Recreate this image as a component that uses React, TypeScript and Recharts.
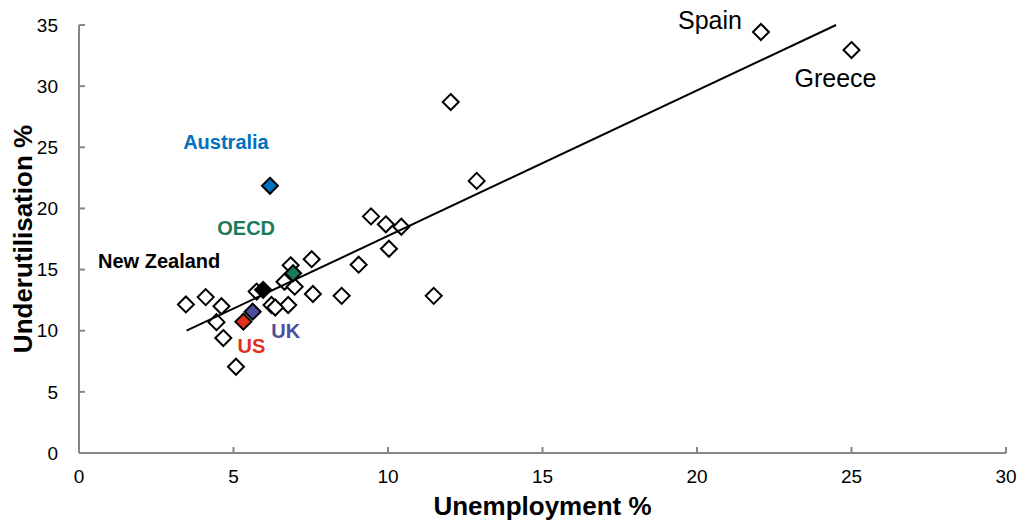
import React from 'react';
import { ScatterChart, Scatter, XAxis, YAxis, Label } from 'recharts';

const xTicks = [0, 5, 10, 15, 20, 25, 30];
const yTicks = [0, 5, 10, 15, 20, 25, 30, 35];

const otherNames = ['Spain', 'Greece', '', '', '', '', '', '', '', '', '', '', '', '', '', '', '', '', '', '', '', '', '', '', '', ''];
const otherUnemployment = [22.07, 25.0, 12.03, 12.87, 9.45, 9.93, 10.43, 10.03, 9.05, 7.53, 6.85, 6.65, 6.98, 5.75, 7.57, 8.5, 11.48, 6.23, 6.77, 3.46, 4.1, 4.61, 4.45, 4.67, 5.08, 6.35];
const otherUnderutilisation = [34.43, 32.95, 28.7, 22.25, 19.35, 18.7, 18.5, 16.7, 15.4, 15.85, 15.35, 14.0, 13.6, 13.2, 13.0, 12.85, 12.85, 12.1, 12.1, 12.15, 12.75, 12.0, 10.7, 9.4, 7.05, 11.9];

const focusNames = ['Australia', 'OECD', 'New Zealand', 'UK', 'US'];
const focusUnemployment = [6.18, 6.93, 5.96, 5.62, 5.32];
const focusUnderutilisation = [21.85, 14.7, 13.34, 11.56, 10.74];

const trendUnemployment = [3.48, 24.5];
const trendUnderutilisation = [10.0, 35.0];

const otherData = otherUnemployment.map((x, i) => ({ x, y: otherUnderutilisation[i], name: otherNames[i] }));
const focusData = focusUnemployment.map((x, i) => ({ x, y: focusUnderutilisation[i], name: focusNames[i] }));
const trendData = trendUnemployment.map((x, i) => ({ x, y: trendUnderutilisation[i] }));

const FONT = '"Liberation Sans", Arial, sans-serif';

const labelStyle: Record<string, { color: string; dx: number; dy: number; size: number; weight: string; fill: string }> = {
  Australia: { fill: '#0070C0', color: '#0070C0', dx: -44, dy: -37, size: 20, weight: 'bold' },
  OECD: { fill: '#1B7A5C', color: '#1B7A5C', dx: -47, dy: -38, size: 20, weight: 'bold' },
  'New Zealand': { fill: '#000000', color: '#000000', dx: -104, dy: -22, size: 20, weight: 'bold' },
  UK: { fill: '#4A4F9E', color: '#4A4F9E', dx: 33, dy: 26, size: 20, weight: 'bold' },
  US: { fill: '#E2301F', color: '#E2301F', dx: 8, dy: 31, size: 20, weight: 'bold' },
  Spain: { fill: '#FFFFFF', color: '#000000', dx: -51, dy: -3, size: 25, weight: 'normal' },
  Greece: { fill: '#FFFFFF', color: '#000000', dx: -16, dy: 37, size: 25, weight: 'normal' },
};

const R = 8;

const DiamondShape = (props: any) => {
  const { cx, cy, payload } = props;
  const st = payload && payload.name ? labelStyle[payload.name] : undefined;
  const fill = st ? st.fill : '#FFFFFF';
  return (
    <g>
      <path
        d={`M${cx},${cy - R}L${cx + R},${cy}L${cx},${cy + R}L${cx - R},${cy}Z`}
        fill={fill}
        stroke="#000"
        strokeWidth={2}
      />
      {st ? (
        <text
          x={cx + st.dx}
          y={cy + st.dy}
          textAnchor="middle"
          fill={st.color}
          fontSize={st.size}
          fontWeight={st.weight}
          fontFamily={FONT}
        >
          {payload.name}
        </text>
      ) : null}
    </g>
  );
};

const NoShape = () => <g />;

const XTitle = (props: any) => {
  const vb = props.viewBox || {};
  const cx = vb.x + vb.width / 2;
  return (
    <text x={cx} y={515} textAnchor="middle" fontSize={26} fontWeight="bold" fontFamily={FONT} fill="#000">
      Unemployment %
    </text>
  );
};

const YTitle = (props: any) => {
  const vb = props.viewBox || {};
  const cy = vb.y + vb.height / 2;
  return (
    <text
      x={32}
      y={cy}
      transform={`rotate(-90, 32, ${cy})`}
      textAnchor="middle"
      fontSize={26}
      fontWeight="bold"
      fontFamily={FONT}
      fill="#000"
    >
      Underutilisation %
    </text>
  );
};

export default function App() {
  return (
    <div style={{ position: 'absolute', left: 0, top: 0, width: 1030, height: 522, background: '#fff' }}>
      <ScatterChart
        width={1030}
        height={522}
        margin={{ top: 25, right: 24, bottom: 0, left: 0 }}
        style={{ fontFamily: FONT }}
      >
        <XAxis
          type="number"
          dataKey="x"
          domain={[0, 30]}
          ticks={xTicks}
          height={69}
          stroke="#868686"
          strokeWidth={2}
          tickSize={-6}
          tickMargin={23}
          tick={{ fill: '#000', fontSize: 19, fontFamily: FONT }}
          tickLine={{ stroke: '#868686', strokeWidth: 2 }}
        >
          <Label content={<XTitle />} />
        </XAxis>
        <YAxis
          type="number"
          dataKey="y"
          domain={[0, 35]}
          ticks={yTicks}
          width={79}
          stroke="#868686"
          strokeWidth={2}
          tickSize={-6}
          tickMargin={27}
          tick={{ fill: '#000', fontSize: 19, fontFamily: FONT }}
          tickLine={{ stroke: '#868686', strokeWidth: 2 }}
        >
          <Label content={<YTitle />} />
        </YAxis>
        <Scatter data={otherData} shape={DiamondShape} isAnimationActive={false} />
        <Scatter
          data={trendData}
          line={{ stroke: '#000', strokeWidth: 2 }}
          lineType="joint"
          shape={NoShape}
          isAnimationActive={false}
        />
        <Scatter data={focusData} shape={DiamondShape} isAnimationActive={false} />
      </ScatterChart>
    </div>
  );
}
